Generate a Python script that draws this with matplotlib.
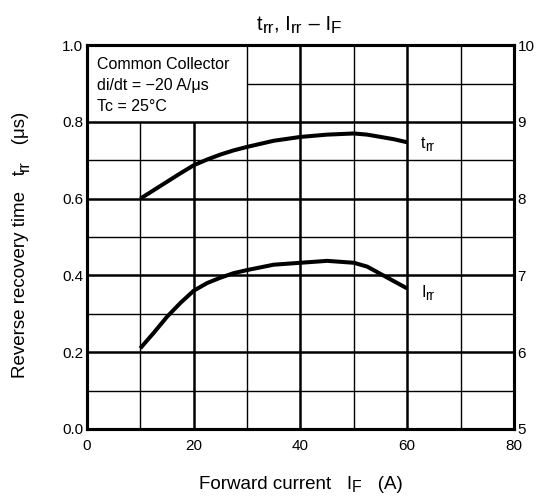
import matplotlib.pyplot as plt
from matplotlib.patches import Rectangle
from matplotlib.transforms import offset_copy

plt.rcParams["font.family"] = ["Liberation Sans", "DejaVu Sans"]

# Forward current (A)
trr_current = [10, 12.5, 15, 17.5, 20, 22.5, 25, 27.5, 30, 35, 40, 45, 50, 52.5, 55, 57.5, 60]
# Reverse recovery time (us), left axis
trr_values = [0.600, 0.622, 0.644, 0.666, 0.687, 0.702, 0.715, 0.726, 0.735, 0.751, 0.761,
              0.767, 0.770, 0.767, 0.761, 0.755, 0.747]

irr_current = [10, 12.5, 15, 17.5, 20, 22.5, 25, 27.5, 30, 35, 40, 45, 50, 52.5, 55, 57.5, 60]
# Reverse recovery current (A), right axis
irr_values = [6.05, 6.25, 6.46, 6.64, 6.80, 6.90, 6.97, 7.03, 7.07, 7.14, 7.165,
              7.19, 7.165, 7.115, 7.02, 6.925, 6.83]

x_ticks = [0, 20, 40, 60, 80]
left_ticks = [0.0, 0.2, 0.4, 0.6, 0.8, 1.0]
right_ticks = [5, 6, 7, 8, 9, 10]

conditions = ["Common Collector", "di/dt = \u221220 A/\u03bcs", "Tc = 25\u00b0C"]

SUB_SCALE = 0.85
SUB_DROP = 0.17

fig = plt.figure(figsize=(5.36, 4.97), dpi=100)
ax = fig.add_axes([0.162, 0.137, 0.797, 0.772])
renderer = fig.canvas.get_renderer()


def run_width(s, size):
    # advance width in points, trailing spaces included
    probe = fig.text(0, 0, s + "|", fontsize=size)
    bar = fig.text(0, 0, "|", fontsize=size)
    w = probe.get_window_extent(renderer).width - bar.get_window_extent(renderer).width
    probe.remove()
    bar.remove()
    return w * 72 / fig.dpi


def rich_text(x, y, runs, size, transform, rotation=0, ha="left"):
    # runs: list of (text, is_subscript); y is the baseline
    sizes = [size * SUB_SCALE if sub else size for _, sub in runs]
    widths = [run_width(s, fs) for (s, _), fs in zip(runs, sizes)]
    pos = -sum(widths) / 2 if ha == "center" else 0.0
    for (s, sub), fs, w in zip(runs, sizes, widths):
        drop = size * SUB_DROP if sub else 0.0
        if rotation == 90:
            dx, dy = drop, pos
        else:
            dx, dy = pos, -drop
        tr = offset_copy(transform, fig=fig, x=dx, y=dy, units="points")
        fig.text(x, y, s, transform=tr, fontsize=fs, rotation=rotation,
                 rotation_mode="anchor", ha="left", va="baseline")
        pos += w


ax.set_xlim(0, 80)
ax.set_ylim(0, 1.0)

# grid: heavy every 20 A / 0.2 us, light in between; condition box kept clear
for gx in range(10, 80, 10):
    lw = 1.8 if gx % 20 == 0 else 1.0
    top = 0.8 if gx < 30 else 1.0
    ax.vlines(gx, 0, top, color="black", lw=lw, zorder=1)
for i in range(1, 10):
    gy = i / 10
    lw = 1.8 if i % 2 == 0 else 1.0
    left = 30 if gy > 0.8 else 0
    ax.hlines(gy, left, 80, color="black", lw=lw, zorder=1)

ax.add_patch(Rectangle((0, 0.8), 30, 0.2, facecolor="white", edgecolor="none", zorder=0.5))

for k, line in enumerate(conditions):
    ax.text(1.9, 0.951 - k * 0.055, line, fontsize=11.5, va="center", ha="left")

ax.plot(trr_current, trr_values, color="black", lw=2.9, solid_capstyle="butt",
        solid_joinstyle="round", zorder=3)

ax.set_xticks(x_ticks)
ax.set_yticks(left_ticks)
ax.set_yticklabels([f"{v:.1f}" for v in left_ticks])
ax.tick_params(axis="both", labelsize=11, length=0, pad=2.5)
ax.tick_params(axis="x", pad=7)

for spine in ax.spines.values():
    spine.set_linewidth(2.2)

ax2 = ax.twinx()
ax2.set_ylim(5, 10)
ax2.set_yticks(right_ticks)
ax2.plot(irr_current, irr_values, color="black", lw=2.9, solid_capstyle="butt",
         solid_joinstyle="round", zorder=3)
ax2.tick_params(axis="y", labelsize=11, length=0, pad=2.5)
for spine in ax2.spines.values():
    spine.set_linewidth(2.2)

# curve names
rich_text(62.6, 0.731, [("t", False), ("rr", True)], 11.5, ax.transData)
rich_text(62.6, 6.72, [("I", False), ("rr", True)], 11.5, ax2.transData)

# title and axis names
rich_text(0.558, 0.94,
          [("t", False), ("rr", True), (", I", False), ("rr", True), (" \u2013 I", False), ("F", True)],
          14.5, fig.transFigure, ha="center")
rich_text(0.561, 0.016,
          [("Forward current   I", False), ("F", True), ("   (A)", False)],
          13.5, fig.transFigure, ha="center")
rich_text(0.047, 0.507,
          [("Reverse recovery time   t", False), ("rr", True), ("   (\u03bcs)", False)],
          13.5, fig.transFigure, rotation=90, ha="center")

fig.savefig("out.png", dpi=100)
